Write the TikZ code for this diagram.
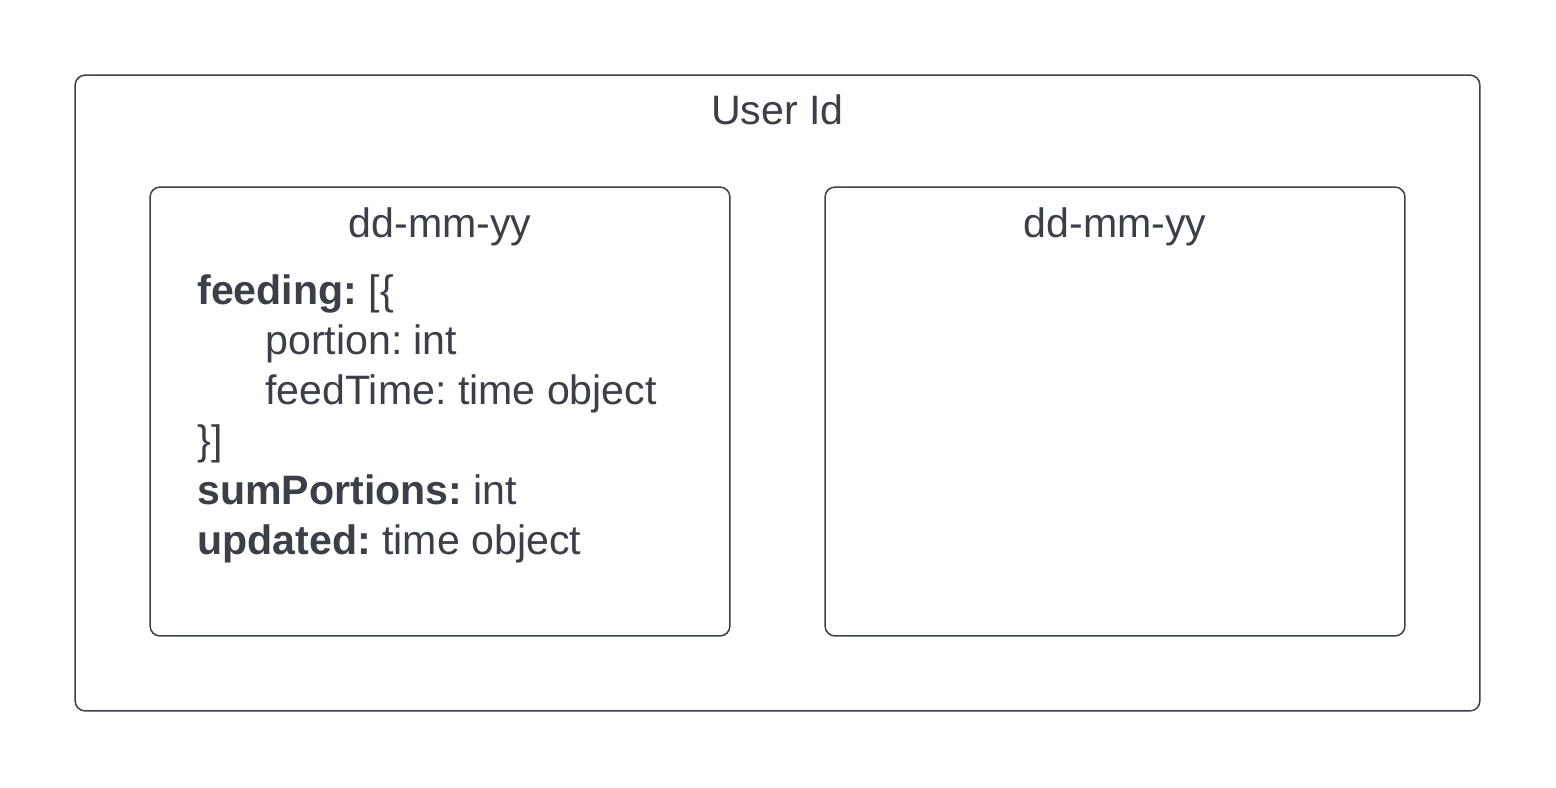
\documentclass[tikz,border=0pt]{standalone}
\usepackage{fontspec}
\setmainfont{Liberation Sans}
\usepackage{tikz}
\usetikzlibrary{positioning}
\definecolor{ink}{RGB}{58,63,72}
\frenchspacing

\begin{document}
\begin{tikzpicture}[x = 0.02cm, y = -0.02cm,
  every node/.style = {text = ink, font = \fontsize{23.4}{28.3}\selectfont},
  box/.style = {draw = ink, line width = 0.85pt, rounded corners = 0.2cm,
    inner sep = 0pt, outer sep = 0pt}]
\useasboundingbox (0, 0) rectangle (1556, 788);
\node (user) [box, minimum width = 28.1cm, minimum height = 12.72cm] at (777.5, 393) {};
\node (dayA) [box, minimum width = 11.6cm, minimum height = 8.98cm] at (440, 411.5) {};
\node (dayB) [box, minimum width = 11.6cm, minimum height = 8.98cm] at (1115, 411.5) {};
\node (userlbl) [anchor = base] at (777.5, 124) {User Id};
\node (dayAlbl) [anchor = base] at (440, 237) {dd-mm-yy};
\node (dayBlbl) [anchor = base] at (1115, 237) {dd-mm-yy};
\node (feeding) [anchor = base west, inner sep = 0pt] at (197, 304) {\textbf{feeding:} [\{};
\node (portion) [anchor = base west, inner sep = 0pt] at (265, 354) {portion: int};
\node (feedtime) [anchor = base west, inner sep = 0pt] at (265, 404) {feedTime: time object};
\node (close) [anchor = base west, inner sep = 0pt] at (197, 454) {\}]};
\node (sum) [anchor = base west, inner sep = 0pt] at (197, 504) {\textbf{sumPortions:} int};
\node (updated) [anchor = base west, inner sep = 0pt] at (197, 554) {\textbf{updated:} time object};
\end{tikzpicture}
\end{document}
